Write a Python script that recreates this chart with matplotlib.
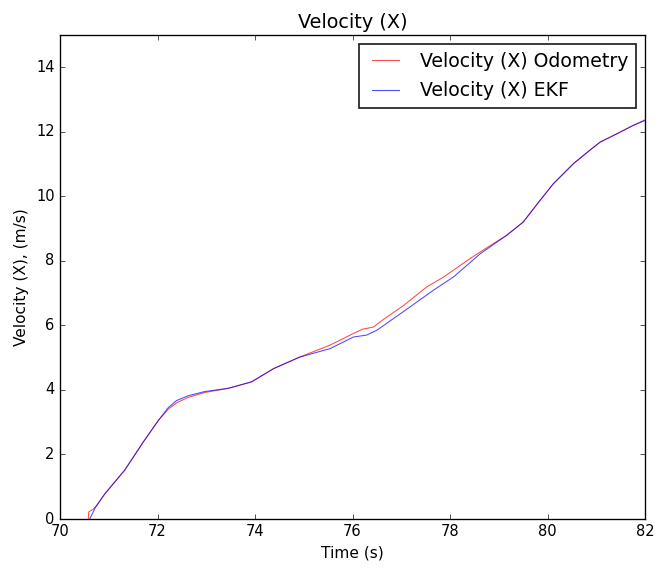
import matplotlib
matplotlib.use("Agg")
import matplotlib.pyplot as plt

odom_t = [70.58, 70.59, 70.68, 70.75, 70.92, 71.33, 71.71, 72.02, 72.22, 72.39, 72.63, 72.97,
          73.45, 73.93, 74.38, 74.92, 75.54, 76.02, 76.20, 76.43, 76.63, 77.05, 77.52, 77.87,
          78.41, 78.80, 79.16, 79.50, 79.85, 80.12, 80.53, 80.91, 81.08, 81.49, 81.76, 82.0]
odom_v = [0.0, 0.22, 0.30, 0.42, 0.78, 1.52, 2.39, 3.06, 3.40, 3.60, 3.77, 3.92,
          4.05, 4.25, 4.66, 5.02, 5.39, 5.75, 5.88, 5.95, 6.18, 6.62, 7.19, 7.50,
          8.07, 8.45, 8.79, 9.20, 9.88, 10.39, 11.01, 11.48, 11.68, 11.99, 12.20, 12.37]

ekf_t = [70.61, 70.72, 70.92, 71.33, 71.71, 72.02, 72.22, 72.39, 72.63, 72.97, 73.45, 73.93,
         74.38, 74.92, 75.54, 76.02, 76.29, 76.50, 77.0, 77.66, 78.07, 78.62, 79.16, 79.50,
         79.85, 80.12, 80.53, 80.91, 81.08, 81.49, 81.76, 82.0]
ekf_v = [0.0, 0.34, 0.78, 1.52, 2.39, 3.06, 3.45, 3.67, 3.82, 3.95, 4.05, 4.25,
         4.66, 5.02, 5.28, 5.64, 5.70, 5.85, 6.38, 7.09, 7.50, 8.22, 8.79, 9.20,
         9.88, 10.39, 11.01, 11.48, 11.68, 11.99, 12.20, 12.35]

xticks = [70, 72, 74, 76, 78, 80, 82]
yticks = [0, 2, 4, 6, 8, 10, 12, 14]

plt.style.use("classic")
plt.rcParams["figure.facecolor"] = "white"
plt.rcParams["savefig.facecolor"] = "white"

DPI = 96
fig = plt.figure(figsize=(657 / DPI, 568 / DPI), dpi=DPI)
ax = fig.add_axes([60 / 657, 1 - 519 / 568, (645 - 60) / 657, (519 - 35) / 568])

ax.plot(odom_t, odom_v, color="r", lw=0.8, alpha=0.7, label="Velocity (X) Odometry")
ax.plot(ekf_t, ekf_v, color="b", lw=0.8, alpha=0.7, label="Velocity (X) EKF")

ax.set_xlim(70, 82)
ax.set_ylim(0, 15)
ax.set_xticks(xticks)
ax.set_yticks(yticks)
ax.tick_params(labelsize=11)
ax.set_title("Velocity (X)", fontsize=14.4)
ax.set_xlabel("Time (s)", fontsize=11.5)
ax.set_ylabel("Velocity (X), (m/s)", fontsize=11.5)
leg = ax.legend(loc="upper right", shadow=False, fontsize=14.2, labelspacing=0.55)
leg.get_frame().set_linewidth(1.3)
leg.get_frame().set_edgecolor("#222222")

fig.savefig("out.png", dpi=DPI)
